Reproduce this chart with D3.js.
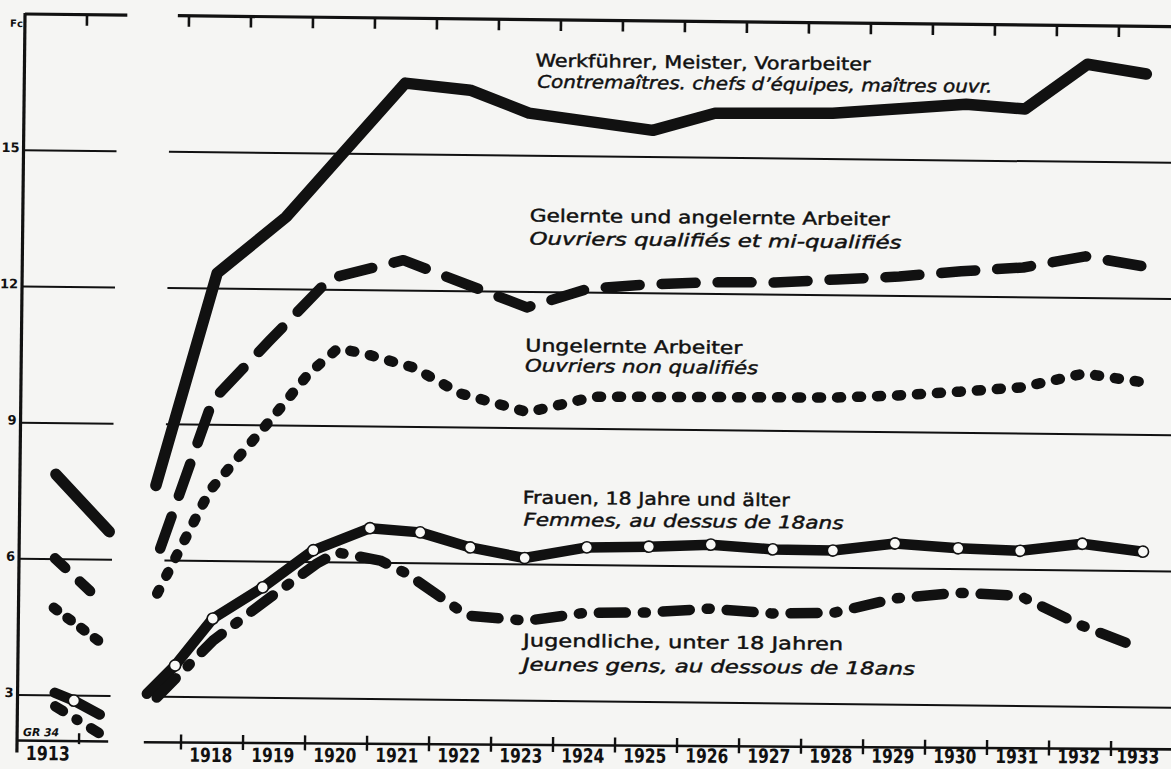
<!DOCTYPE html>
<html>
<head>
<meta charset="utf-8">
<script src="https://cdn.jsdelivr.net/npm/d3@7/dist/d3.min.js"></script>
<style>
    html, body { margin: 0; padding: 0; background: #f5f5f3; }
    svg { display: block; }
    text { font-family: 'DejaVu Sans', 'Noto Sans', sans-serif; fill: #111; }
</style>
</head>
<body>
<div id="chart"></div>
<script>
// Index values (Fc). Positions are in "year units":
// 1918.5 = middle of the 1918 interval on the axis.
const years = d3.range(1918, 1934);
const yTicks = [3, 6, 9, 12, 15];

// 1913 panel (left of the broken axis)
const werkfuehrer1913 = [[1913.58, 7.87], [1914.45, 6.62]];
const gelernte1913 = [[1913.58, 6.02], [1914.35, 5.06]];
const ungelernte1913 = [[1913.57, 4.93], [1914.36, 4.15]];
const frauen1913 = [[1913.6, 3.06], [1913.91, 2.89], [1914.33, 2.59]];
const jugend1913 = [[1913.61, 2.76], [1914.42, 2.10]];

// 1918 - 1933
const werkfuehrer = [[1917.55, 7.65], [1918.5, 12.34], [1919.6, 13.59], [1921.5, 16.57], [1922.55, 16.43],
    [1923.5, 15.94], [1925.5, 15.59], [1926.5, 15.98], [1928.4, 16.01], [1930.55, 16.24], [1931.5, 16.15],
    [1932.5, 17.15], [1933.45, 16.95]];
const gelernte = [[1917.63, 6.26], [1918.45, 9.54], [1919.36, 10.87], [1920.32, 12.25], [1921.5, 12.67],
    [1923.5, 11.66], [1924.5, 12.09], [1925.5, 12.2], [1926.5, 12.26], [1927.5, 12.27], [1928.5, 12.35],
    [1929.5, 12.43], [1930.5, 12.56], [1931.5, 12.66], [1932.5, 12.92], [1933.45, 12.71]];
const ungelernte = [[1917.59, 5.27], [1918.42, 7.55], [1919.38, 9.11], [1920.0, 10.16], [1920.46, 10.71],
    [1920.87, 10.61], [1921.68, 10.31], [1922.44, 9.75], [1923.54, 9.35], [1924.6, 9.71], [1925.5, 9.72],
    [1926.5, 9.73], [1927.5, 9.74], [1928.5, 9.75], [1929.5, 9.81], [1930.5, 9.91], [1931.5, 10.02],
    [1932.5, 10.34], [1933.45, 10.16]];
const frauen = [[1917.44, 3.06], [1917.89, 3.69], [1918.49, 4.73], [1919.29, 5.43], [1920.1, 6.26],
    [1921.01, 6.76], [1921.82, 6.68], [1922.63, 6.36], [1923.51, 6.14], [1924.51, 6.39], [1925.51, 6.42],
    [1926.51, 6.48], [1927.51, 6.39], [1928.48, 6.38], [1929.48, 6.55], [1930.5, 6.46], [1931.5, 6.42],
    [1932.5, 6.59], [1933.48, 6.43]];
const jugend = [[1917.6, 2.98], [1918.5, 4.25], [1919.41, 5.21], [1920.16, 5.97], [1920.48, 6.22],
    [1921.18, 6.05], [1921.61, 5.77], [1922.59, 4.86], [1923.56, 4.76], [1924.5, 4.95], [1925.5, 4.97],
    [1926.5, 5.07], [1927.5, 4.98], [1928.5, 5.01], [1929.5, 5.34], [1930.5, 5.48], [1931.5, 5.43],
    [1932.5, 4.79], [1933.45, 4.30]];

const labelsDe = ['Werkführer, Meister, Vorarbeiter', 'Gelernte und angelernte Arbeiter',
    'Ungelernte Arbeiter', 'Frauen, 18 Jahre und älter', 'Jugendliche, unter 18 Jahren'];
const labelsFr = ['Contremaîtres. chefs d\u2019équipes, maîtres ouvr.', 'Ouvriers qualifiés et mi-qualifiés',
    'Ouvriers non qualifiés', 'Femmes, au dessus de 18ans', 'Jeunes gens, au dessous de 18ans'];

// ---------------------------------------------------------------
const W = 1171, H = 769;
const INK = '#111';

const svg = d3.select('#chart').append('svg')
    .attr('width', W)
    .attr('height', H);

// the scan is slightly rotated, so draw everything in a tilted group
const g = svg.append('g').attr('transform', 'rotate(0.63, 25, 16)');

const y = d3.scaleLinear().domain([2, 18]).range([740.5, 14]);
const xOld = d3.scaleLinear().domain([1913, 1914]).range([25, 87]);
const xNew = d3.scaleLinear().domain([1918, 1933]).range([189, 1119]);

// bottom edge of the scan is tilted a bit less than the grid
const botY = x => y(2) - (x - 250) * 0.0041;
const labY = x => 760 - (x - 218) * 0.0095;

// gridlines, split by the axis break
const grid = g.append('g').attr('stroke', INK).attr('fill', 'none');
yTicks.forEach(v => {
    grid.append('line').attr('x1', xOld(1913)).attr('x2', xOld(1914.5))
        .attr('y1', y(v)).attr('y2', y(v)).attr('stroke-width', 2);
    grid.append('line').attr('x1', xNew(1917.7)).attr('x2', W + 40)
        .attr('y1', y(v)).attr('y2', y(v)).attr('stroke-width', 2);
});

// top frame line (18) with ticks pointing down
grid.append('line').attr('x1', xOld(1913)).attr('x2', xOld(1914.65))
    .attr('y1', y(18)).attr('y2', y(18)).attr('stroke-width', 3.2);
grid.append('line').attr('x1', xNew(1917.82)).attr('x2', W + 40)
    .attr('y1', y(18)).attr('y2', y(18)).attr('stroke-width', 3.2);

// bottom axis (2) with ticks crossing it
grid.append('line').attr('x1', xOld(1913)).attr('x2', xOld(1914.47))
    .attr('y1', y(2)).attr('y2', y(2)).attr('stroke-width', 2.6);
const bx1 = xNew(1917.4), bx2 = W + 40;
grid.append('line').attr('x1', bx1).attr('x2', bx2)
    .attr('y1', botY(bx1)).attr('y2', botY(bx2)).attr('stroke-width', 2.6);

const topTicks = [xOld(1914)].concat(years.map(d => xNew(d)));
grid.selectAll('.ttick').data(topTicks).enter().append('line')
    .attr('class', 'ttick')
    .attr('x1', d => d).attr('x2', d => d)
    .attr('y1', y(18)).attr('y2', y(18) + 11)
    .attr('stroke-width', 2.6);

grid.append('line').attr('x1', xOld(1914)).attr('x2', xOld(1914))
    .attr('y1', y(2) - 8).attr('y2', y(2) + 3).attr('stroke-width', 2.4);
grid.selectAll('.btick').data(years).enter().append('line')
    .attr('class', 'btick')
    .attr('x1', d => xNew(d)).attr('x2', d => xNew(d))
    .attr('y1', d => botY(xNew(d)) - 8).attr('y2', d => botY(xNew(d)) + 7)
    .attr('stroke-width', 2.4);

// left axis
grid.append('line').attr('x1', xOld(1913)).attr('x2', xOld(1913))
    .attr('y1', y(18) - 1).attr('y2', y(2) + 12).attr('stroke-width', 3.2);

// tick labels
g.selectAll('.ylab').data(yTicks).enter().append('text')
    .attr('class', 'ylab')
    .attr('x', 21).attr('y', d => y(d) + 2)
    .attr('text-anchor', 'end')
    .attr('font-size', 13).attr('font-weight', 'bold')
    .text(d => d);
g.append('text').attr('x', 23).attr('y', 27).attr('text-anchor', 'end')
    .attr('font-size', 10).attr('font-weight', 'bold').text('Fc');

// the last label sits against the right edge, pull it in a little
g.selectAll('.xlab').data(years).enter().append('text')
    .attr('class', 'xlab')
    .attr('x', d => xNew(d + 0.5) - (d === 1933 ? 4 : 1)).attr('y', d => labY(xNew(d + 0.5)))
    .attr('text-anchor', 'middle')
    .attr('font-size', 19.5).attr('font-weight', 'bold')
    .attr('textLength', 43).attr('lengthAdjust', 'spacingAndGlyphs')
    .text(d => d);
g.append('text').attr('x', xOld(1913.5)).attr('y', 760)
    .attr('text-anchor', 'middle')
    .attr('font-size', 19.5).attr('font-weight', 'bold')
    .attr('textLength', 44).attr('lengthAdjust', 'spacingAndGlyphs')
    .text('1913');
g.append('text').attr('x', 31).attr('y', 736)
    .attr('font-size', 11).attr('font-weight', 'bold').attr('font-style', 'italic')
    .attr('textLength', 36).attr('lengthAdjust', 'spacingAndGlyphs')
    .text('GR 34');

// series
const lineOld = d3.line().x(d => xOld(d[0])).y(d => y(d[1]));
const lineNew = d3.line().x(d => xNew(d[0])).y(d => y(d[1]));

const series = [
    { old: werkfuehrer1913, cur: werkfuehrer, width: 11.5, dash: null, dashOld: null },
    { old: gelernte1913, cur: gelernte, width: 10.5, dash: '34 22', dashOld: '14 20' },
    { old: ungelernte1913, cur: ungelernte, width: 10.5, dash: '4 16', dashOld: '4 13' },
    { old: frauen1913, cur: frauen, width: 10.5, dash: null, dashOld: null },
    { old: jugend1913, cur: jugend, width: 10.5, dash: '27 17 3 17', dashOld: '9 16 1 16' }
];

const lines = g.append('g').attr('fill', 'none').attr('stroke', INK)
    .attr('stroke-linecap', 'round').attr('stroke-linejoin', 'round');

series.forEach(s => {
    lines.append('path').attr('d', lineOld(s.old))
        .attr('stroke-width', s.width)
        .attr('stroke-dasharray', s.dashOld);
    lines.append('path').attr('d', lineNew(s.cur))
        .attr('stroke-width', s.width)
        .attr('stroke-dasharray', s.dash);
});

// white ring markers on the women's line
const marks = g.append('g').attr('fill', '#f8f8f6').attr('stroke', INK).attr('stroke-width', 1.6);
marks.selectAll('.m0').data(frauen1913.slice(1, 2)).enter().append('circle')
    .attr('cx', d => xOld(d[0])).attr('cy', d => y(d[1])).attr('r', 5.6);
marks.selectAll('.m1').data(frauen.slice(1)).enter().append('circle')
    .attr('cx', d => xNew(d[0])).attr('cy', d => y(d[1])).attr('r', 5.6);

// series captions: [x, baseline, width] for German and French lines
const capDe = [[536, 61, 335], [532, 216, 360], [529, 346, 217], [528, 498, 267], [530, 641, 320]];
const capFr = [[538, 82, 455], [532, 239, 372], [529, 366, 233], [529, 520, 320], [530, 665, 392]];

const caps = g.append('g').attr('stroke', INK).attr('stroke-width', 0.45);
labelsDe.forEach((t, i) => {
    caps.append('text').attr('x', capDe[i][0]).attr('y', capDe[i][1])
        .attr('font-size', 17.5)
        .attr('textLength', capDe[i][2]).attr('lengthAdjust', 'spacingAndGlyphs')
        .text(t);
    caps.append('text').attr('x', capFr[i][0]).attr('y', capFr[i][1])
        .attr('font-size', 17.5).attr('font-style', 'italic')
        .attr('textLength', capFr[i][2]).attr('lengthAdjust', 'spacingAndGlyphs')
        .text(labelsFr[i]);
});
</script>
</body>
</html>
